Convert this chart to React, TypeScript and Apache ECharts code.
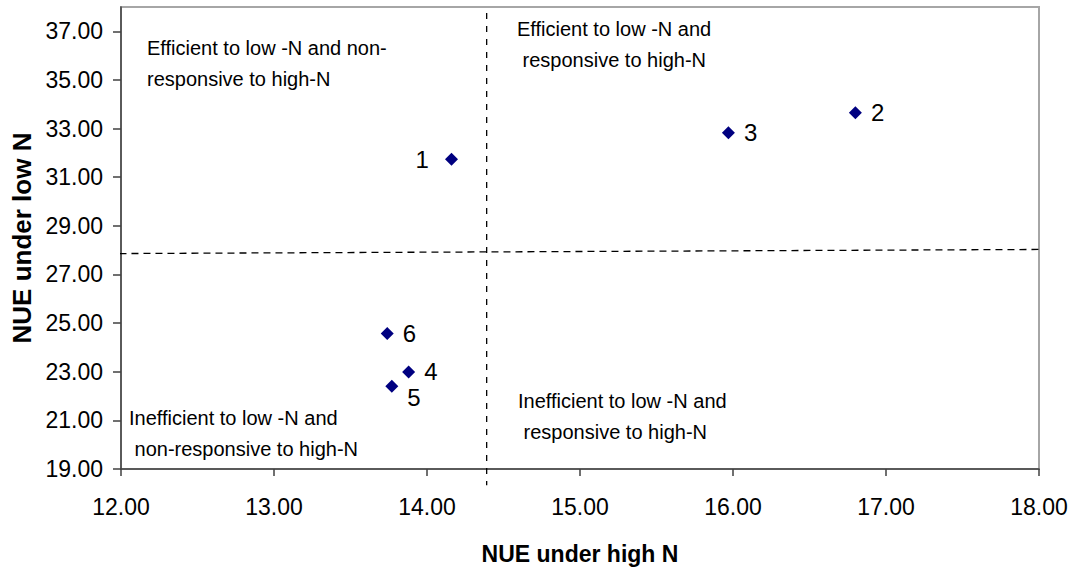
import React, { useEffect, useRef } from "react";
import * as echarts from "echarts";

const genotypes = ["1", "2", "3", "4", "5", "6"];
const nueHighN = [14.16, 16.8, 15.97, 13.88, 13.77, 13.74];
const nueLowN = [31.74, 33.65, 32.83, 22.99, 22.4, 24.57];
const xTicks = [12, 13, 14, 15, 16, 17, 18];
const yTicks = [19, 21, 23, 25, 27, 29, 31, 33, 35, 37];
const verticalDivider = [
  [14.39, 37.75],
  [14.39, 18.33],
];
const horizontalDivider = [
  [11.99, 27.86],
  [18.02, 28.03],
];
const quadrantTexts = [
  "Efficient to low -N and non-\nresponsive to high-N",
  "Efficient to low -N and\n responsive to high-N",
  "Inefficient to low -N and\n non-responsive to high-N",
  "Inefficient to low -N and\n responsive to high-N",
];
const xTitle = "NUE under high N";
const yTitle = "NUE under low N";

const FONT = "'Liberation Sans', Arial, Helvetica, sans-serif";

export default function App() {
  const ref = useRef<HTMLDivElement>(null);

  useEffect(() => {
    if (!ref.current) return;
    const chart = echarts.init(ref.current, undefined, { renderer: "svg" });

    const labelCfg = (name: string) => {
      const base: any = {
        show: true,
        formatter: name,
        color: "#000",
        fontSize: 24,
        fontFamily: FONT,
        position: "right",
        distance: 9,
      };
      if (name === "1") {
        base.position = "left";
        base.distance = 16;
      }
      if (name === "5") {
        base.offset = [0, 11];
      }
      return base;
    };

    const scatterData = genotypes.map((g, i) => ({
      value: [nueHighN[i], nueLowN[i]],
      label: labelCfg(g),
    }));

    const quadrantPos = [
      { left: 147, top: 32 },
      { left: 517, top: 13 },
      { left: 129, top: 402 },
      { left: 518, top: 385 },
    ];

    chart.setOption({
      animation: false,
      backgroundColor: "#fff",
      grid: {
        left: 121,
        top: 7,
        right: 34,
        bottom: 101,
        show: true,
        borderColor: "#a6a6a6",
        borderWidth: 2,
        backgroundColor: "transparent",
        containLabel: false,
        outerBoundsMode: "none",
      },
      xAxis: {
        type: "value",
        min: 12,
        max: 18,
        interval: 1,
        name: xTitle,
        nameLocation: "middle",
        nameGap: 73,
        nameTextStyle: {
          fontSize: 23,
          fontWeight: "bold",
          fontFamily: FONT,
          color: "#000",
        },
        axisLine: { show: true, lineStyle: { color: "#404040", width: 1.5 } },
        axisTick: {
          show: true,
          length: 7,
          inside: false,
          customValues: xTicks,
          lineStyle: { color: "#404040", width: 1.5 },
        },
        axisLabel: {
          margin: 26,
          fontSize: 23,
          fontFamily: FONT,
          color: "#000",
          customValues: xTicks,
          formatter: (v: number) => v.toFixed(2),
        },
        splitLine: { show: false },
      },
      yAxis: {
        type: "value",
        min: 19,
        max: 38,
        interval: 2,
        name: yTitle,
        nameLocation: "middle",
        nameGap: 85,
        nameTextStyle: {
          fontSize: 26,
          fontWeight: "bold",
          fontFamily: FONT,
          color: "#000",
        },
        axisLine: { show: true, lineStyle: { color: "#404040", width: 1.5 } },
        axisTick: {
          show: true,
          length: 8,
          inside: false,
          customValues: yTicks,
          lineStyle: { color: "#404040", width: 1.5 },
        },
        axisLabel: {
          margin: 18,
          fontSize: 23,
          fontFamily: FONT,
          color: "#000",
          customValues: yTicks,
          formatter: (v: number) => v.toFixed(2),
        },
        splitLine: { show: false },
      },
      series: [
        {
          type: "line",
          data: verticalDivider,
          symbol: "none",
          clip: false,
          silent: true,
          z: 1,
          lineStyle: { color: "#000", width: 1.3, type: [6, 7] },
        },
        {
          type: "line",
          data: horizontalDivider,
          symbol: "none",
          clip: false,
          silent: true,
          z: 1,
          lineStyle: { color: "#000", width: 1.3, type: [7, 5] },
        },
        {
          type: "scatter",
          symbol: "diamond",
          symbolSize: 13,
          itemStyle: { color: "#000080", opacity: 1 },
          data: scatterData,
          z: 3,
        },
      ],
      graphic: quadrantTexts.map((t, i) => ({
        type: "text",
        left: quadrantPos[i].left,
        top: quadrantPos[i].top,
        silent: true,
        style: {
          text: t,
          fill: "#000",
          fontSize: 20,
          fontFamily: FONT,
          lineHeight: 31,
        },
      })),
    });

    return () => {
      chart.dispose();
    };
  }, []);

  return (
    <div
      ref={ref}
      style={{
        position: "fixed",
        left: 0,
        top: 0,
        width: 1073,
        height: 570,
        background: "#fff",
      }}
    />
  );
}
